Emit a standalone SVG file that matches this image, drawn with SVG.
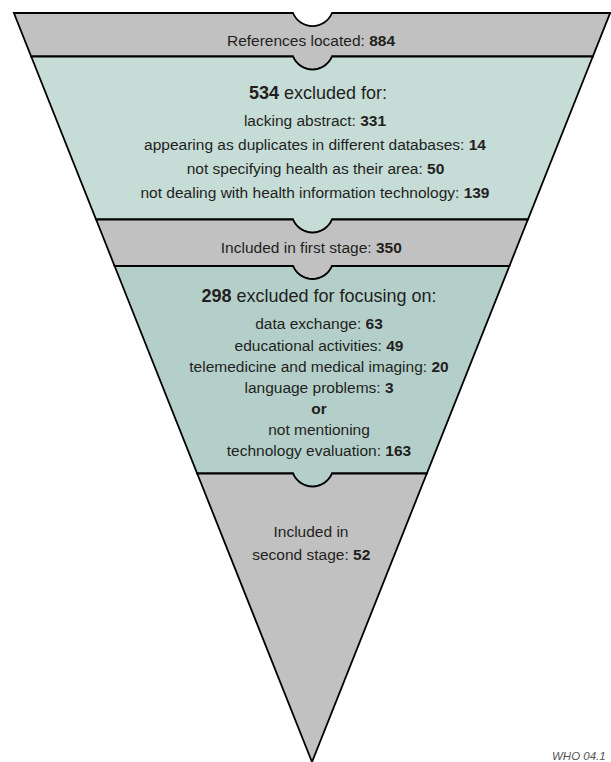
<svg xmlns="http://www.w3.org/2000/svg" width="611" height="762" viewBox="0 0 611 762">
<style>
.band{stroke:#000;stroke-width:1.8;stroke-linejoin:miter}
.gray{fill:#c1c1c1}
.teal1{fill:#c6dcd7}
.teal2{fill:#b4cfca}
text{font-family:"Liberation Sans",Arial,sans-serif;font-size:15.5px;fill:#231f20;text-anchor:middle}
.h{font-size:18px}
.b{font-weight:bold}
.note{font-size:11.5px;font-style:italic;fill:#555;text-anchor:start}
</style>
<rect width="611" height="762" fill="#fff"/>
<g id="located">
<path class="band gray" d="M13.9,13 L293,13 A21.1,21.1 0 0 0 332,13 L610.1,13 L592.8,56.5 L332,56.5 A21.1,21.1 0 0 1 293,56.5 L31.2,56.5 Z"/>
<text x="311" y="46">References located: <tspan class="b">884</tspan></text>
</g>
<g id="excluded1">
<path class="band teal1" d="M31.2,56.5 L293,56.5 A21.1,21.1 0 0 0 332,56.5 L592.8,56.5 L527.9,219.5 L332,219.5 A21.1,21.1 0 0 1 293,219.5 L96.1,219.5 Z"/>
<text class="h" x="318" y="99"><tspan class="b">534</tspan> excluded for:</text>
<text x="315" y="125.5">lacking abstract: <tspan class="b">331</tspan></text>
<text x="315" y="150">appearing as duplicates in different databases: <tspan class="b">14</tspan></text>
<text x="315.5" y="174">not specifying health as their area: <tspan class="b">50</tspan></text>
<text x="315" y="198">not dealing with health information technology: <tspan class="b">139</tspan></text>
</g>
<g id="stage1">
<path class="band gray" d="M96.1,219.5 L293,219.5 A21.1,21.1 0 0 0 332,219.5 L527.9,219.5 L509.4,266 L332,266 A21.1,21.1 0 0 1 293,266 L114.6,266 Z"/>
<text x="311.3" y="253.3">Included in first stage: <tspan class="b">350</tspan></text>
</g>
<g id="excluded2">
<path class="band teal2" d="M114.6,266 L293,266 A21.1,21.1 0 0 0 332,266 L509.4,266 L426.8,473.5 L332,473.5 A21.1,21.1 0 0 1 293,473.5 L197.2,473.5 Z"/>
<text class="h" x="319" y="301.7"><tspan class="b">298</tspan> excluded for focusing on:</text>
<text x="319" y="329">data exchange: <tspan class="b">63</tspan></text>
<text x="319" y="350.7">educational activities: <tspan class="b">49</tspan></text>
<text x="319" y="371.7">telemedicine and medical imaging: <tspan class="b">20</tspan></text>
<text x="319" y="392.7">language problems: <tspan class="b">3</tspan></text>
<text class="b" x="319" y="414">or</text>
<text x="319" y="435">not mentioning</text>
<text x="319" y="456">technology evaluation: <tspan class="b">163</tspan></text>
</g>
<g id="stage2">
<path class="band gray" d="M197.2,473.5 L293,473.5 A21.1,21.1 0 0 0 332,473.5 L426.8,473.5 L312,762 Z"/>
<text x="311" y="536.7">Included in</text>
<text x="311.3" y="560">second stage: <tspan class="b">52</tspan></text>
</g>
<text class="note" x="552" y="760">WHO 04.1</text>
</svg>
